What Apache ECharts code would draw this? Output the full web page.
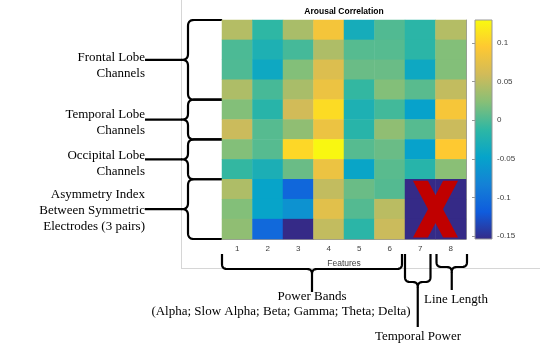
<!DOCTYPE html>
<html>
<head>
<meta charset="utf-8">
<script src="https://cdn.jsdelivr.net/npm/echarts@6/dist/echarts.min.js"></script>
<style>
  html, body { margin: 0; padding: 0; background: #fff; }
  #chart { width: 540px; height: 351px; }
</style>
</head>
<body>
<div id="chart"></div>
<script>
// features (columns) and channel rows
var features = ['1', '2', '3', '4', '5', '6', '7', '8'];
var channels = ['1', '2', '3', '4', '5', '6', '7', '8', '9', '10', '11'];

// correlation per row (rows 9-11 / cols 7-8 are masked, shown at the minimum)
var row1  = [0.045, -0.012, 0.040, 0.087, -0.033, 0.002, -0.015, 0.045];
var row2  = [0.000, -0.026, -0.003, 0.042, 0.004, 0.004, -0.015, 0.022];
var row3  = [0.001, -0.040, 0.022, 0.068, 0.012, 0.012, -0.040, 0.022];
var row4  = [0.042, -0.002, 0.040, 0.080, -0.010, 0.022, 0.005, 0.052];
var row5  = [0.022, -0.017, 0.060, 0.108, -0.026, -0.004, -0.050, 0.088];
var row6  = [0.056, 0.004, 0.028, 0.080, -0.017, 0.028, 0.004, 0.056];
var row7  = [0.022, 0.004, 0.105, 0.127, 0.004, 0.012, -0.050, 0.095];
var row8  = [-0.010, -0.028, 0.012, 0.080, -0.045, 0.005, -0.018, 0.025];
var row9  = [0.042, -0.047, -0.108, 0.052, 0.012, 0.003, -0.154, -0.154];
var row10 = [0.022, -0.047, -0.066, 0.072, 0.003, 0.048, -0.154, -0.154];
var row11 = [0.028, -0.106, -0.154, 0.052, -0.015, 0.056, -0.154, -0.154];
var rowsData = [row1, row2, row3, row4, row5, row6, row7, row8, row9, row10, row11];

// masked block [colStart, rowStart, colEnd, rowEnd]
var masked = [[6, 8, 7, 10]];

// colour scale and colorbar ticks
var cMin = -0.154, cMax = 0.130;
var cbTicks = [-0.15, -0.1, -0.05, 0, 0.05, 0.1];
var parula = ['#352A87', '#0F5CDD', '#1481D6', '#06A4CA', '#2EB7A4', '#87BF77', '#D1BB59', '#FEC832', '#F9FB0E'];

var heat = [];
rowsData.forEach(function (r, j) {
  r.forEach(function (v, i) { heat.push([i, j, v]); });
});

var gLeft = 222, gTop = 20, gW = 244, gH = 219;
var cw = gW / features.length, ch = gH / channels.length;
var frameGray = '#999';
var sans = '"Liberation Sans", Arial, sans-serif';
var serif = '13px "Liberation Serif", "Times New Roman", serif';

var stops = parula.slice().reverse().map(function (c, i, a) {
  return { offset: i / (a.length - 1), color: c };
});

// quadratic curve as points
function quad(p0, p1, p2) {
  var pts = [];
  for (var t = 0.125; t <= 1.0001; t += 0.125) {
    var u = 1 - t;
    pts.push([u * u * p0[0] + 2 * u * t * p1[0] + t * t * p2[0], u * u * p0[1] + 2 * u * t * p1[1] + t * t * p2[1]]);
  }
  return pts;
}
function leftBrace(y0, y1, sx, ex, r) {
  var ym = (y0 + y1) / 2;
  var p = [[ex, y0], [sx + r, y0]];
  p = p.concat(quad([sx + r, y0], [sx, y0], [sx, y0 + r]));
  p.push([sx, ym - r]);
  p = p.concat(quad([sx, ym - r], [sx, ym], [sx - r, ym]));
  p = p.concat(quad([sx - r, ym], [sx, ym], [sx, ym + r]));
  p.push([sx, y1 - r]);
  p = p.concat(quad([sx, y1 - r], [sx, y1], [sx + r, y1]));
  p.push([ex, y1]);
  return p;
}
function bottomBrace(x0, x1, yTop, sy, r) {
  var xm = (x0 + x1) / 2;
  var p = [[x0, yTop], [x0, sy - r]];
  p = p.concat(quad([x0, sy - r], [x0, sy], [x0 + r, sy]));
  p.push([xm - r, sy]);
  p = p.concat(quad([xm - r, sy], [xm, sy], [xm, sy + r]));
  p = p.concat(quad([xm, sy + r], [xm, sy], [xm + r, sy]));
  p.push([x1 - r, sy]);
  p = p.concat(quad([x1 - r, sy], [x1, sy], [x1, sy - r]));
  p.push([x1, yTop]);
  return p;
}
function rowEdge(k) { return gTop + k * ch; }
function colEdge(k) { return gLeft + k * cw; }

var braceStyle = { stroke: '#000', lineWidth: 2.2, fill: null, lineJoin: 'round' };
var graphics = [
  { type: 'line', shape: { x1: 181.5, y1: 0, x2: 181.5, y2: 269 }, style: { stroke: '#d6d6d6', lineWidth: 1 }, z: -1 },
  { type: 'line', shape: { x1: 181.5, y1: 268.5, x2: 540, y2: 268.5 }, style: { stroke: '#d6d6d6', lineWidth: 1 }, z: -1 }
];
[[0, 4], [4, 6], [6, 8], [8, 11]].forEach(function (g) {
  var y0 = rowEdge(g[0]), y1 = rowEdge(g[1]);
  graphics.push({ type: 'polyline', shape: { points: leftBrace(y0, y1, 188, gLeft, 6) }, style: braceStyle });
  graphics.push({ type: 'line', shape: { x1: 182, y1: (y0 + y1) / 2, x2: 145, y2: (y0 + y1) / 2 }, style: braceStyle });
});
[[colEdge(0), colEdge(6) - 3, 269, 292], [colEdge(6), colEdge(7) - 5, 282, 327], [colEdge(7) + 1, colEdge(8) + 1, 267, 290]].forEach(function (g) {
  var xm = (g[0] + g[1]) / 2;
  graphics.push({ type: 'polyline', shape: { points: bottomBrace(g[0], g[1], 254, g[2], 5) }, style: braceStyle });
  graphics.push({ type: 'line', shape: { x1: xm, y1: g[2] + 5, x2: xm, y2: g[3] }, style: braceStyle });
});
var labels = [
  ['Frontal Lobe', 145, 58, 'right'], ['Channels', 145, 74, 'right'],
  ['Temporal Lobe', 145, 115, 'right'], ['Channels', 145, 131, 'right'],
  ['Occipital Lobe', 145, 156, 'right'], ['Channels', 145, 172, 'right'],
  ['Asymmetry Index', 145, 195, 'right'], ['Between Symmetric', 145, 211, 'right'], ['Electrodes (3 pairs)', 145, 227, 'right'],
  ['Power Bands', 312, 297, 'center'], ['(Alpha; Slow Alpha; Beta; Gamma; Theta; Delta)', 281, 312, 'center'],
  ['Temporal Power', 418, 337, 'center'], ['Line Length', 456, 300, 'center']
];
labels.forEach(function (l) {
  graphics.push({ type: 'text', style: { text: l[0], x: l[1], y: l[2], align: l[3], verticalAlign: 'middle', font: serif, fill: '#000' } });
});

var chart = echarts.init(document.getElementById('chart'));
var option = {
  animation: false,
  title: {
    text: 'Arousal Correlation', left: gLeft + gW / 2, top: 7, padding: 0, textAlign: 'center',
    textStyle: { fontFamily: sans, fontSize: 8.5, fontWeight: 'bold', color: '#000' }
  },
  grid: [
    { left: gLeft, top: gTop, width: gW, height: gH },
    { left: 475, top: gTop, width: 17, height: gH, show: true, borderColor: frameGray, borderWidth: 1,
      backgroundColor: new echarts.graphic.LinearGradient(0, 0, 0, 1, stops) }
  ],
  xAxis: [
    { type: 'category', data: features, gridIndex: 0, position: 'bottom',
      axisLine: { lineStyle: { color: frameGray } },
      axisTick: { inside: true, length: 3, alignWithLabel: true, lineStyle: { color: frameGray } },
      axisLabel: { fontFamily: sans, fontSize: 8, color: '#404040', margin: 6 },
      splitLine: { show: false },
      name: 'Features', nameLocation: 'middle', nameGap: 20,
      nameTextStyle: { fontFamily: sans, fontSize: 8.5, color: '#404040' } },
    { type: 'category', data: features, gridIndex: 0, position: 'top',
      axisLine: { lineStyle: { color: frameGray } },
      axisTick: { inside: true, length: 3, alignWithLabel: true, lineStyle: { color: frameGray } },
      axisLabel: { show: false }, splitLine: { show: false } },
    { type: 'value', gridIndex: 1, show: false, min: 0, max: 1 }
  ],
  yAxis: [
    { type: 'category', data: channels, gridIndex: 0, inverse: true, position: 'left',
      axisLine: { lineStyle: { color: frameGray } },
      axisTick: { inside: true, length: 3, alignWithLabel: true, lineStyle: { color: frameGray } },
      axisLabel: { show: false }, splitLine: { show: false } },
    { type: 'category', data: channels, gridIndex: 0, inverse: true, position: 'right',
      axisLine: { lineStyle: { color: frameGray } },
      axisTick: { inside: true, length: 3, alignWithLabel: true, lineStyle: { color: frameGray } },
      axisLabel: { show: false }, splitLine: { show: false } },
    { type: 'value', gridIndex: 1, position: 'right', min: cMin, max: cMax,
      axisLine: { show: false },
      axisTick: { inside: true, length: 3, customValues: cbTicks, lineStyle: { color: frameGray } },
      axisLabel: { customValues: cbTicks, fontFamily: sans, fontSize: 8, color: '#404040', margin: 5,
        formatter: function (v) { return String(Math.round(v * 100) / 100); } },
      splitLine: { show: false } }
  ],
  visualMap: {
    show: false, type: 'continuous', min: cMin, max: cMax, seriesIndex: 0,
    inRange: { color: parula }
  },
  series: [
    { type: 'heatmap', xAxisIndex: 0, yAxisIndex: 0, data: heat, itemStyle: { borderWidth: 0 } },
    { type: 'custom', xAxisIndex: 0, yAxisIndex: 0, data: masked, z: 5,
      renderItem: function (params, api) {
        var a = api.coord([api.value(0), api.value(1)]);
        var b = api.coord([api.value(2), api.value(3)]);
        var s = api.size([1, 1]);
        var x0 = a[0] - s[0] / 2, y0 = a[1] - s[1] / 2;
        var x1 = b[0] + s[0] / 2, y1 = b[1] + s[1] / 2;
        var w = x1 - x0, h = y1 - y0;
        var ix = w * 0.13, iy = h * 0.025, arm = w * 0.245;
        var L = x0 + ix, R = x1 - ix, T = y0 + iy, B = y1 - iy;
        var red = '#C00000';
        return { type: 'group', children: [
          { type: 'polygon', shape: { points: [[L, T], [L + arm, T], [R, B], [R - arm, B]] }, style: { fill: red } },
          { type: 'polygon', shape: { points: [[R - arm, T], [R, T], [L + arm, B], [L, B]] }, style: { fill: red } }
        ] };
      } }
  ],
  graphic: graphics
};
chart.setOption(option);
</script>
</body>
</html>
